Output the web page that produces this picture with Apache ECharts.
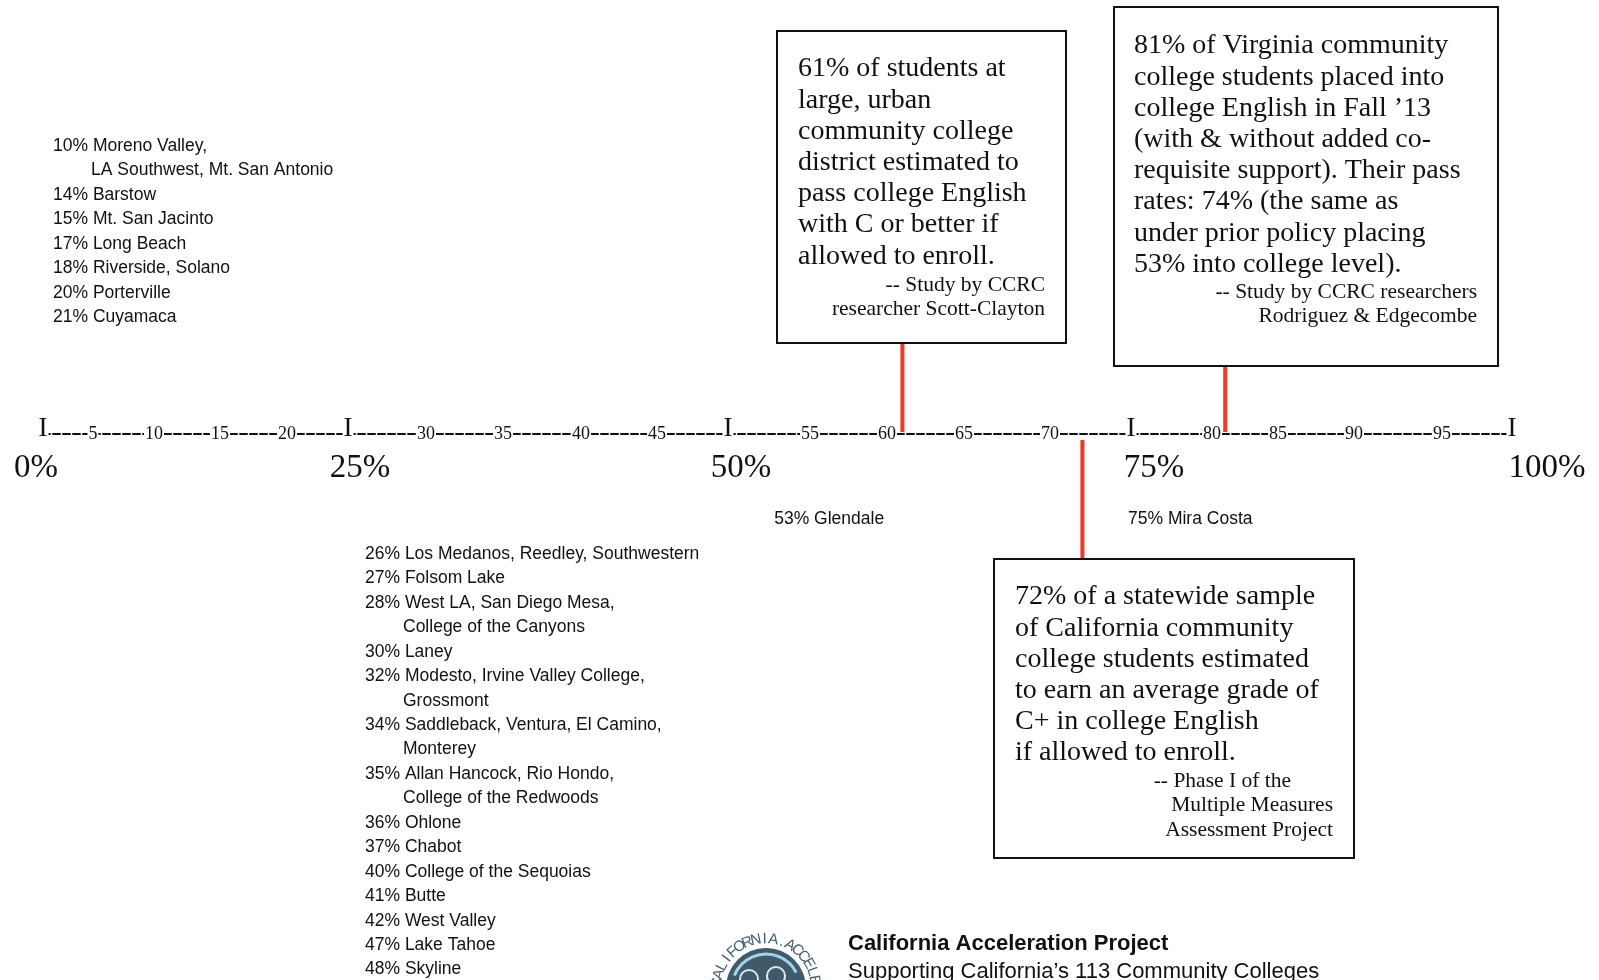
<!DOCTYPE html>
<html>
<head>
<meta charset="utf-8">
<script src="https://cdn.jsdelivr.net/npm/echarts@6.0.0/dist/echarts.min.js"></script>
<style>
  html, body { margin: 0; padding: 0; background: #fff; }
  #chart { width: 1599px; height: 980px; }
</style>
</head>
<body>
<div id="chart"></div>
<script>
// ruler 0..100, cut in steps of 5 like the typed original
var rulerSteps = [0, 5, 10, 15, 20, 25, 30, 35, 40, 45, 50, 55, 60, 65, 70, 75, 80, 85, 90, 95, 100]
var quarterLabels = ['0%', '25%', '50%', '75%', '100%']

// study callouts
var calloutValues = [61, 81, 72]
var calloutText = [
  ['61% of students at', 'large, urban', 'community college', 'district estimated to',
    'pass college English', 'with C or better if', 'allowed to enroll.'],
  ['81% of Virginia community', 'college students placed into', 'college English in Fall \u201913',
    '(with & without added co-', 'requisite support). Their pass', 'rates: 74% (the same as',
    'under prior policy placing', '53% into college level).'],
  ['72% of a statewide sample', 'of California community', 'college students estimated',
    'to earn an average grade of', 'C+ in college English', 'if allowed to enroll.']
]
var calloutSource = [
  ['-- Study by CCRC', 'researcher Scott-Clayton'],
  ['-- Study by CCRC researchers', 'Rodriguez & Edgecombe'],
  ['-- Phase I of the', 'Multiple Measures', 'Assessment Project']
]

// colleges written right under the ruler
var noteValues = [53, 75]
var noteNames = ['Glendale', 'Mira Costa']

// college lists
var lowRates = [10, 14, 15, 17, 18, 20, 21]
var lowColleges = [
  ['Moreno Valley,', 'LA Southwest, Mt. San Antonio'], ['Barstow'], ['Mt. San Jacinto'],
  ['Long Beach'], ['Riverside, Solano'], ['Porterville'], ['Cuyamaca']
]
var midRates = [26, 27, 28, 30, 32, 34, 35, 36, 37, 40, 41, 42, 47, 48]
var midColleges = [
  ['Los Medanos, Reedley, Southwestern'], ['Folsom Lake'],
  ['West LA, San Diego Mesa,', 'College of the Canyons'], ['Laney'],
  ['Modesto, Irvine Valley College,', 'Grossmont'],
  ['Saddleback, Ventura, El Camino,', 'Monterey'],
  ['Allan Hancock, Rio Hondo,', 'College of the Redwoods'],
  ['Ohlone'], ['Chabot'], ['College of the Sequoias'], ['Butte'],
  ['West Valley'], ['Lake Tahoe'], ['Skyline']
]

// layout (pixels)
var stepX = [43, 93, 154, 220, 287, 348, 426, 503, 581, 657, 728, 810, 887, 964, 1050,
  1131, 1212, 1278, 1354, 1442, 1512]
var quarterLabelShift = [-7, 12, 13, 23, 35]
var rulerY = 434
var boxes = [
  { x: 777, y: 31, w: 289, h: 312, textX: 798, textY: 69, srcRight: [1045, 1045], srcY: 285 },
  { x: 1114, y: 7, w: 384, h: 359, textX: 1134, textY: 46, srcRight: [1477, 1477], srcY: 292 },
  { x: 994, y: 559, w: 360, h: 299, textX: 1015, textY: 597, srcRight: [1291, 1333, 1333], srcY: 781 }
]
var serif = 'Liberation Serif'
var sans = 'Liberation Sans'
var ink = '#111'
var red = '#f43a1e'

var chart = echarts.init(document.getElementById('chart'))

var grids = []
var xAxes = []
var yAxes = []
var series = []

var pctRich = {}
quarterLabelShift.forEach(function (d, k) {
  pctRich['p' + k] = {
    fontFamily: serif, fontSize: 33, color: ink,
    padding: d > 0 ? [0, 0, 0, 2 * d] : [0, -2 * d, 0, 0]
  }
})

for (var i = 0; i < rulerSteps.length - 1; i++) {
  var lo = rulerSteps[i]
  var hi = rulerSteps[i + 1]
  var last = i === rulerSteps.length - 2
  grids.push({
    left: stepX[i],
    width: stepX[i + 1] - stepX[i],
    top: rulerY - 60,
    height: 60
  })
  // dashed ruler with numbers sitting on it
  xAxes.push({
    gridIndex: i,
    type: 'value',
    position: 'bottom',
    min: lo,
    max: hi,
    interval: 5,
    axisLine: { lineStyle: { color: ink, width: 2, type: [7, 3] } },
    axisTick: { show: false },
    splitLine: { show: false },
    axisLabel: {
      margin: 0,
      verticalAlign: 'middle',
      showMinLabel: true,
      showMaxLabel: last,
      formatter: function (v) {
        return v % 25 === 0 ? '{bar|I}' : '{num|' + v + '}'
      },
      rich: {
        bar: { fontFamily: serif, fontSize: 27, color: ink, backgroundColor: '#fff', padding: [0, 1, 10, 1] },
        num: { fontFamily: serif, fontSize: 18, color: ink, backgroundColor: '#fff', padding: [0, 1] }
      }
    }
  })
  // big percent labels under each quarter mark
  xAxes.push({
    gridIndex: i,
    type: 'value',
    position: 'bottom',
    min: lo,
    max: hi,
    interval: 5,
    axisLine: { show: false },
    axisTick: { show: false },
    splitLine: { show: false },
    axisLabel: {
      margin: 34,
      verticalAlign: 'middle',
      showMinLabel: true,
      showMaxLabel: last,
      formatter: function (v) {
        var k = v / 25
        return v % 25 === 0 ? '{p' + k + '|' + quarterLabels[k] + '}' : ''
      },
      rich: pctRich
    }
  })
  yAxes.push({ gridIndex: i, type: 'value', min: 0, max: 1, show: false })

  var inStep = (function (a, b, isLast) {
    return function (v) { return v >= a && (v < b || (isLast && v <= b)) }
  })(lo, hi, last)

  // red leader lines from the ruler to each callout box
  var stems = []
  calloutValues.forEach(function (v, k) { if (inStep(v)) stems.push([v, 0, k]) })
  if (stems.length) {
    series.push({
      type: 'custom',
      xAxisIndex: i * 2,
      yAxisIndex: i,
      data: stems,
      silent: true,
      renderItem: function (params, api) {
        var p = api.coord([api.value(0), 0])
        var b = boxes[api.value(2)]
        var above = b.y < rulerY
        return {
          type: 'line',
          shape: { x1: p[0], y1: above ? p[1] - 2 : p[1] + 6, x2: p[0], y2: above ? b.y + b.h : b.y },
          style: { stroke: red, lineWidth: 4 }
        }
      }
    })
  }

  // college names hung off the ruler
  var notes = []
  noteValues.forEach(function (v, k) { if (inStep(v)) notes.push([v, 0, k]) })
  if (notes.length) {
    series.push({
      type: 'custom',
      xAxisIndex: i * 2,
      yAxisIndex: i,
      data: notes,
      silent: true,
      renderItem: function (params, api) {
        var v = api.value(0)
        var p = api.coord([v, 0])
        return {
          type: 'text',
          x: p[0] - 3,
          y: p[1] + 85,
          style: {
            text: v + '% ' + noteNames[api.value(2)],
            fontFamily: sans, fontSize: 17.5, fill: ink, align: 'left', verticalAlign: 'middle'
          }
        }
      }
    })
  }
}

var graphics = []

function textLine (str, x, y, size, family, align, weight) {
  return {
    type: 'text',
    x: x,
    y: y,
    z: 20,
    style: {
      text: str, fontFamily: family, fontSize: size, fontWeight: weight || 'normal',
      fill: ink, align: align || 'left', verticalAlign: 'middle'
    }
  }
}

boxes.forEach(function (b, i) {
  graphics.push({
    type: 'rect',
    z: 10,
    shape: { x: b.x, y: b.y, width: b.w, height: b.h },
    style: { fill: '#fff', stroke: ink, lineWidth: 2 }
  })
  calloutText[i].forEach(function (line, k) {
    graphics.push(textLine(line, b.textX, b.textY + k * 31.2, 28, serif))
  })
  calloutSource[i].forEach(function (line, k) {
    graphics.push(textLine(line, b.srcRight[k], b.srcY + k * 24.5, 21.5, serif, 'right'))
  })
})

function collegeList (rates, colleges, x, y0) {
  var row = 0
  rates.forEach(function (r, k) {
    colleges[k].forEach(function (name, j) {
      var str = j === 0 ? r + '% ' + name : name
      graphics.push(textLine(str, j === 0 ? x : x + 38, y0 + row * 24.45, 17.5, sans))
      row++
    })
  })
}
collegeList(lowRates, lowColleges, 53, 146)
collegeList(midRates, midColleges, 365, 554)

// footer
graphics.push(textLine('California Acceleration Project', 848, 944, 22, sans, 'left', 'bold'))
graphics.push(textLine('Supporting California\u2019s 113 Community Colleges', 848, 972, 22, sans))

// logo
var lx = 766
var ly = 988
graphics.push({ type: 'circle', z: 5, shape: { cx: lx, cy: ly, r: 40 }, style: { fill: '#3f5a6a' } })
graphics.push({
  type: 'arc', z: 6,
  shape: { cx: lx, cy: ly, r: 34, startAngle: Math.PI * 1.12, endAngle: Math.PI * 1.85 },
  style: { stroke: '#a4d3e6', lineWidth: 3, fill: null }
})
graphics.push({ type: 'circle', z: 6, shape: { cx: lx - 17, cy: ly - 9, r: 9 }, style: { fill: null, stroke: '#dde9ee', lineWidth: 2 } })
graphics.push({ type: 'circle', z: 6, shape: { cx: lx + 10, cy: ly - 12, r: 9 }, style: { fill: null, stroke: '#dde9ee', lineWidth: 2 } })
var ring = 'CALIFORNIA.ACCELERATION PROJECT'
for (var c = 0; c < ring.length; c++) {
  var ang = (-174 + c * 10.3) * Math.PI / 180
  graphics.push({
    type: 'text',
    z: 6,
    x: lx + 49 * Math.cos(ang),
    y: ly + 49 * Math.sin(ang),
    rotation: -(ang + Math.PI / 2),
    style: {
      text: ring[c], fontFamily: sans, fontSize: 15, fill: '#45606f',
      align: 'center', verticalAlign: 'middle'
    }
  })
}

chart.setOption({
  backgroundColor: '#fff',
  animation: false,
  grid: grids,
  xAxis: xAxes,
  yAxis: yAxes,
  series: series,
  graphic: graphics
})
</script>
</body>
</html>
